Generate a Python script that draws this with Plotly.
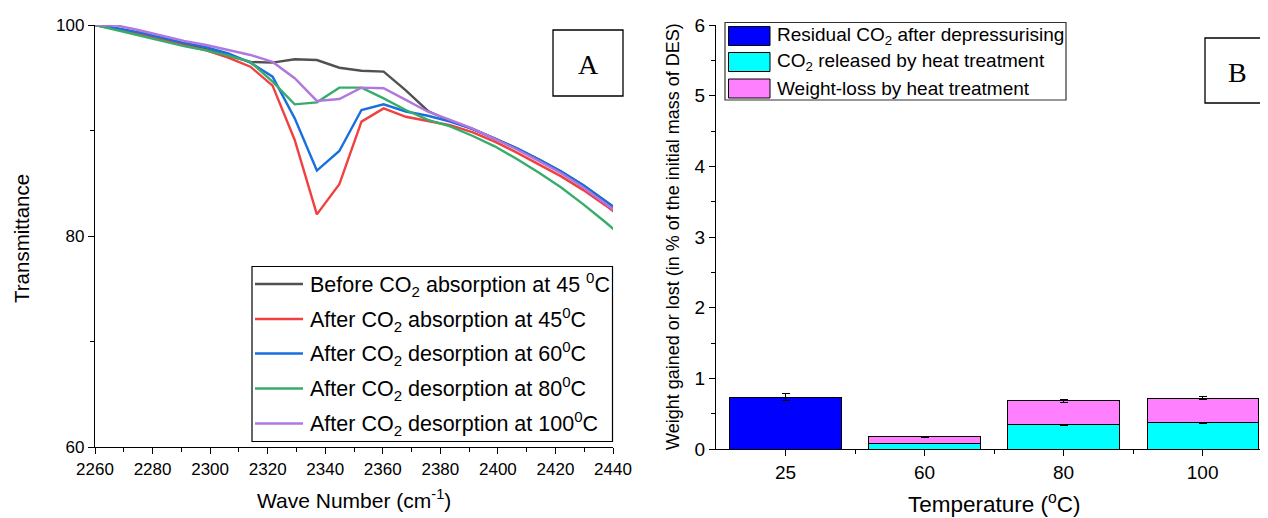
import plotly.graph_objects as go

# page body has an 8px margin; figure is sized/positioned so that page pixels match
OFF = 8
W, H = 1268 - OFF, 518 - OFF

# ---------------- Panel A data ----------------
wavenumber = [2260.0, 2267.7, 2275.4, 2283.1, 2290.9, 2298.6, 2306.3, 2314.0, 2321.7,
              2329.4, 2337.1, 2344.9, 2352.6, 2360.3, 2368.0, 2375.7, 2383.4, 2391.1,
              2398.9, 2406.6, 2414.3, 2422.0, 2429.7, 2437.4, 2445.1]
before_45 = [100.0, 99.6, 99.2, 98.7, 98.2, 97.7, 97.1, 96.5, 96.43,
             96.75, 96.68, 95.95, 95.67, 95.58, 93.8, 91.85, 90.9, 90.15,
             89.25, 88.3, 87.25, 86.1, 84.8, 83.35, 81.8]
after_abs_45 = [100.0, 99.6, 99.1, 98.6, 98.1, 97.6, 96.9, 96.05, 94.25,
                89.1, 82.05, 84.9, 90.84, 92.1, 91.3, 90.9, 90.5, 89.85,
                88.95, 87.9, 86.8, 85.65, 84.35, 82.9, 81.3]
after_des_60 = [100.0, 99.7, 99.3, 98.8, 98.3, 97.9, 97.3, 96.43, 95.1,
                91.15, 86.2, 88.06, 91.94, 92.48, 91.8, 91.4, 90.85, 90.15,
                89.25, 88.3, 87.25, 86.1, 84.8, 83.35, 81.8]
after_des_80 = [100.0, 99.5, 99.0, 98.5, 98.0, 97.6, 97.1, 96.5, 94.63,
                92.48, 92.67, 94.06, 94.06, 93.05, 91.94, 91.0, 90.4, 89.5,
                88.5, 87.3, 86.0, 84.6, 83.0, 81.3, 79.5]
after_des_100 = [100.0, 99.95, 99.5, 99.0, 98.5, 98.1, 97.6, 97.16, 96.5,
                 94.95, 92.8, 92.99, 94.06, 94.0, 92.9, 91.78, 91.0, 90.2,
                 89.2, 88.2, 87.1, 85.95, 84.6, 83.1, 81.5]

series_names = ["Before CO<sub>2</sub> absorption at 45 <sup>0</sup>C",
                "After CO<sub>2</sub> absorption at 45<sup>0</sup>C",
                "After CO<sub>2</sub> desorption at 60<sup>0</sup>C",
                "After CO<sub>2</sub> desorption at 80<sup>0</sup>C",
                "After CO<sub>2</sub> desorption at 100<sup>0</sup>C"]
series_values = [before_45, after_abs_45, after_des_60, after_des_80, after_des_100]
series_colors = ["#515151", "#F14040", "#1A6FDF", "#37AD6B", "#B177DE"]

# ---------------- Panel B data ----------------
temperatures = ["25", "60", "80", "100"]
residual_co2 = [0.73, None, None, None]
residual_err = [0.05, None, None, None]
co2_released = [None, 0.08, 0.34, 0.37]
co2_released_err = [None, 0.005, 0.005, 0.005]
weight_loss = [None, 0.09, 0.34, 0.35]
weight_loss_err = [None, 0.01, 0.02, 0.025]
bar_names = ["Residual CO<sub>2</sub> after depressurising",
             "CO<sub>2</sub> released by heat treatment",
             "Weight-loss by heat treatment"]
bar_colors = ["#0000FF", "#00FFFF", "#FF80FF"]


def px(x):
    return (x - OFF) / W


def py(y):
    return 1 - (y - OFF) / H


fig = go.Figure()

for name, vals, col in zip(series_names, series_values, series_colors):
    fig.add_trace(go.Scatter(x=wavenumber, y=vals, mode="lines", name=name,
                             line=dict(color=col, width=2.4), showlegend=False,
                             xaxis="x", yaxis="y"))

xpos = list(range(len(temperatures)))
for vals, errs, name, col in zip([residual_co2, co2_released, weight_loss],
                                 [residual_err, co2_released_err, weight_loss_err],
                                 bar_names, bar_colors):
    fig.add_trace(go.Bar(x=xpos, y=vals, name=name, width=0.8,
                         marker=dict(color=col, line=dict(color="#000000", width=1)),
                         error_y=dict(type="data", array=errs, color="#000000",
                                      thickness=1, width=4),
                         showlegend=False, xaxis="x2", yaxis="y2"))

axis_common = dict(showline=True, linecolor="#000000", linewidth=1.3, ticks="outside",
                   ticklen=6, tickwidth=1.3, tickcolor="#000000", showgrid=False,
                   zeroline=False, mirror=False, automargin=False)
font_main = "Liberation Sans"
font_serif = "Liberation Serif"

fig.update_layout(
    width=W, height=H, margin=dict(l=0, r=0, t=0, b=0, autoexpand=False),
    paper_bgcolor="white", plot_bgcolor="white",
    barmode="stack", showlegend=False,
    font=dict(family=font_main, color="#000000"),
    xaxis=dict(domain=[px(95), px(613)], range=[2260, 2440], tickmode="linear",
               tick0=2260, dtick=20,
               minor=dict(dtick=10, ticklen=4, tickcolor="#000000", ticks="outside"),
               tickfont=dict(size=17, family=font_main),
               anchor="y", **axis_common),
    yaxis=dict(domain=[py(447), py(25)], range=[60, 100], tickmode="linear",
               tick0=60, dtick=20,
               minor=dict(dtick=10, ticklen=4, tickcolor="#000000", ticks="outside"),
               tickfont=dict(size=17, family=font_main),
               anchor="x", **axis_common),
    xaxis2=dict(domain=[px(716), 1.0], range=[-0.5, 3.47], tickmode="array",
                tickvals=xpos, ticktext=temperatures,
                minor=dict(tickvals=[0.5, 1.5, 2.5], ticklen=4, tickcolor="#000000",
                           ticks="outside"),
                tickfont=dict(size=19, family=font_main),
                anchor="y2", **axis_common),
    yaxis2=dict(domain=[py(449), py(25)], range=[0, 6], tickmode="linear",
                tick0=0, dtick=1,
                minor=dict(dtick=0.5, ticklen=4, tickcolor="#000000", ticks="outside"),
                tickfont=dict(size=19, family=font_main),
                anchor="x2", **axis_common),
)

shapes = []
annotations = []

# Axis titles
annotations.append(dict(x=px(354), y=py(499), xref="paper", yref="paper",
                        text="Wave Number (cm<sup>-1</sup>)", showarrow=False,
                        xanchor="center", yanchor="middle",
                        font=dict(size=21, family=font_main, color="#000000")))
annotations.append(dict(x=px(22), y=py(239), xref="paper", yref="paper",
                        text="Transmittance", showarrow=False, textangle=-90,
                        xanchor="center", yanchor="middle",
                        font=dict(size=20.5, family=font_main, color="#000000")))
annotations.append(dict(x=px(994), y=py(503), xref="paper", yref="paper",
                        text="Temperature (<sup>o</sup>C)", showarrow=False,
                        xanchor="center", yanchor="middle",
                        font=dict(size=22.5, family=font_main, color="#000000")))
annotations.append(dict(x=px(673), y=py(237), xref="paper", yref="paper",
                        text="Weight gained or lost (in % of the initial mass of DES)",
                        showarrow=False, textangle=-90,
                        xanchor="center", yanchor="middle",
                        font=dict(size=18, family=font_main, color="#000000")))

# Panel A legend (custom box)
shapes.append(dict(type="rect", xref="paper", yref="paper",
                   x0=px(252), x1=px(612.5), y0=py(441.5), y1=py(266.5),
                   line=dict(color="#000000", width=1.2), fillcolor="white", layer="above"))
leg_a_y = [284, 319, 353.5, 388.5, 423.5]
for yy, name, col in zip(leg_a_y, series_names, series_colors):
    shapes.append(dict(type="line", xref="paper", yref="paper",
                       x0=px(255), x1=px(303), y0=py(yy), y1=py(yy),
                       line=dict(color=col, width=2.4), layer="above"))
    annotations.append(dict(x=px(308), y=py(yy), xref="paper", yref="paper",
                            text=name, showarrow=False, xanchor="left", yanchor="middle",
                            font=dict(size=21.5, family=font_main, color="#000000")))

# Panel B legend (custom box)
shapes.append(dict(type="rect", xref="paper", yref="paper",
                   x0=px(725), x1=px(1066), y0=py(100), y1=py(22.5),
                   line=dict(color="#333333", width=1.2), fillcolor="white", layer="above"))
leg_b_y = [36, 62, 88.5]
for yy, name, col in zip(leg_b_y, bar_names, bar_colors):
    shapes.append(dict(type="rect", xref="paper", yref="paper",
                       x0=px(728.5), x1=px(770), y0=py(yy + 9.5), y1=py(yy - 9.5),
                       line=dict(color="#000000", width=1), fillcolor=col, layer="above"))
    annotations.append(dict(x=px(775), y=py(yy), xref="paper", yref="paper",
                            text=name, showarrow=False, xanchor="left", yanchor="middle",
                            font=dict(size=19, family=font_main, color="#000000")))

# Panel labels A / B
shapes.append(dict(type="rect", xref="paper", yref="paper",
                   x0=px(553), x1=px(623), y0=py(96), y1=py(30),
                   line=dict(color="#000000", width=1.3), fillcolor="white", layer="above"))
annotations.append(dict(x=px(588), y=py(64), xref="paper", yref="paper", text="A",
                        showarrow=False, xanchor="center", yanchor="middle",
                        font=dict(size=28, family=font_serif, color="#000000")))
shapes.append(dict(type="rect", xref="paper", yref="paper",
                   x0=px(1205), x1=px(1275), y0=py(103), y1=py(38),
                   line=dict(color="#000000", width=1.3), fillcolor="white", layer="above"))
annotations.append(dict(x=px(1237), y=py(72), xref="paper", yref="paper", text="B",
                        showarrow=False, xanchor="center", yanchor="middle",
                        font=dict(size=28, family=font_serif, color="#000000")))

fig.update_layout(shapes=shapes, annotations=annotations)

fig.write_html("out.html")
